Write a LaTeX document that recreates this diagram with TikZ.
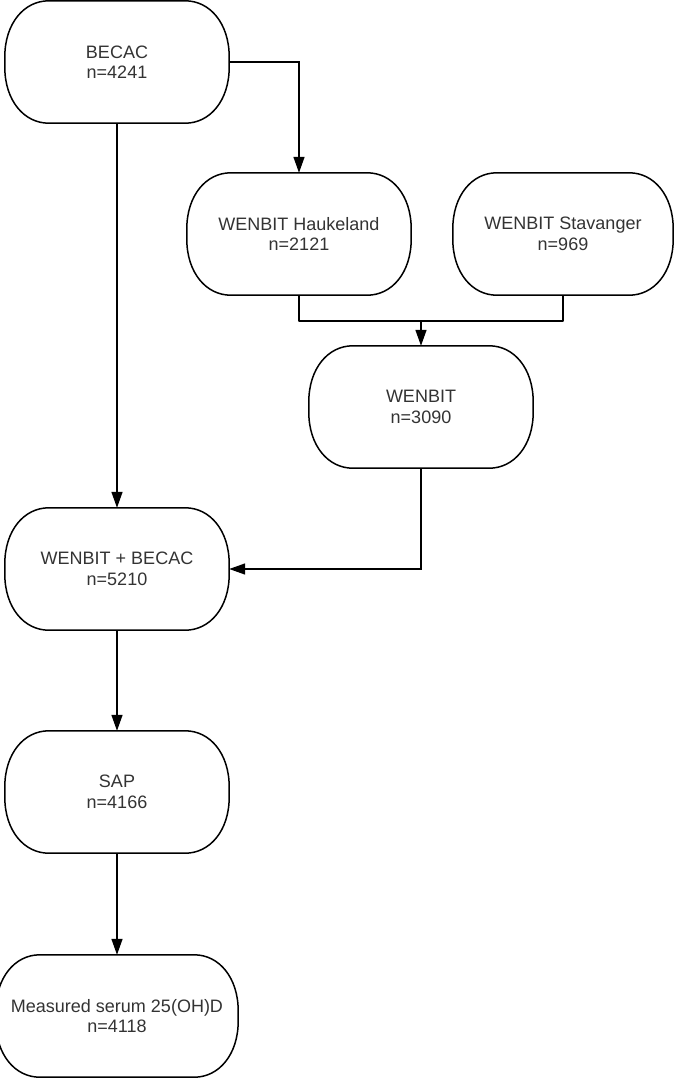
\documentclass[tikz,border=0pt]{standalone}
\usepackage{fontspec}
\setmainfont{Liberation Sans}
\usetikzlibrary{arrows.meta,calc}
\definecolor{txtgray}{HTML}{333333}
\newcommand\rbox[1]{%
\draw[line] ($(#1.north west)+(44,0)$) -- ($(#1.north east)+(-44,0)$)
 .. controls +(25,0) and +(0,-33) .. ($(#1.north east)+(0,56)$)
 -- ($(#1.south east)+(0,-56)$)
 .. controls +(0,33) and +(25,0) .. ($(#1.south east)+(-44,0)$)
 -- ($(#1.south west)+(44,0)$)
 .. controls +(-25,0) and +(0,33) .. ($(#1.south west)+(0,-56)$)
 -- ($(#1.north west)+(0,56)$)
 .. controls +(0,-33) and +(-25,0) .. ($(#1.north west)+(44,0)$) -- cycle;}
\begin{document}
\begin{tikzpicture}[x=1pt,y=-1pt,
  line/.style={draw=black, line width=1.5pt, line join=round},
  box/.style={rectangle, minimum width=224pt, minimum height=122pt,
    inner sep=0pt, align=center, text=txtgray,
    font=\fontsize{18}{20.5}\selectfont},
  conn/.style={draw=black, line width=1.5pt, -{Triangle[length=16pt,width=11pt]}}]
\useasboundingbox (0,0) rectangle (674,1079);
\node[box] (becac) at (117,62) {BECAC\\n=4241};
\node[box] (hauk) at (299,234) {WENBIT Haukeland\\n=2121};
\node[box, minimum width=220pt] (stav) at (563,234) {WENBIT Stavanger\\n=969};
\node[box] (wen) at (421,407) {WENBIT\\n=3090};
\node[box] (wb) at (117,569) {WENBIT + BECAC\\n=5210};
\node[box] (sap) at (117,792) {SAP\\n=4166};
\node[box, minimum width=242pt] (meas) at (117,1016) {Measured serum 25(OH)D\\n=4118};
\rbox{becac}\rbox{hauk}\rbox{stav}\rbox{wen}\rbox{wb}\rbox{sap}\rbox{meas}
\coordinate (merge) at (421,321);
\draw[conn] (becac.east) -| (hauk.north);
\draw[conn] (becac.south) -- (wb.north);
\draw[line] (hauk.south) |- (merge);
\draw[line] (stav.south) |- (merge);
\draw[conn] (merge) -- (wen.north);
\draw[conn] (wen.south) |- (wb.east);
\draw[conn] (wb.south) -- (sap.north);
\draw[conn] (sap.south) -- (meas.north);
\end{tikzpicture}
\end{document}
